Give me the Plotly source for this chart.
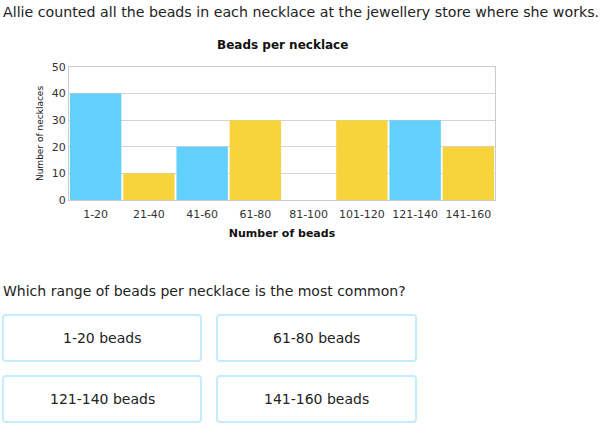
import plotly.graph_objects as go

categories = ["1-20", "21-40", "41-60", "61-80", "81-100", "101-120", "121-140", "141-160"]
counts = [40, 10, 20, 30, 0, 30, 30, 20]
bar_colors = ["#63cffb", "#f7d43c", "#63cffb", "#f7d43c", "#63cffb", "#f7d43c", "#63cffb", "#f7d43c"]
y_ticks = [0, 10, 20, 30, 40, 50]
chart_title = "Beads per necklace"
x_title = "Number of beads"
y_title = "Number of necklaces"
intro_text = "Allie counted all the beads in each necklace at the jewellery store where she works."
question_text = "Which range of beads per necklace is the most common?"
answers = ["1-20 beads", "61-80 beads", "121-140 beads", "141-160 beads"]

W, H = 600, 424
L, R, T, B = 69, 105, 67, 224
PW, PH = W - L - R, H - T - B
FONT = "DejaVu Sans"


def px(x):
    return (x - L) / PW


def py(y):
    return (H - B - y) / PH


fig = go.Figure()
fig.add_trace(go.Bar(
    x=categories, y=counts,
    marker=dict(color=bar_colors, line=dict(width=0)),
    hoverinfo="x+y",
))

fig.update_layout(
    width=W, height=H, autosize=False,
    margin=dict(l=L, r=R, t=T, b=B, pad=0),
    paper_bgcolor="white", plot_bgcolor="white",
    bargap=0.035,
    showlegend=False,
    font=dict(family=FONT, color="#333333"),
)
fig.update_xaxes(
    type="category", showline=True, linecolor="#cccccc", linewidth=1, mirror=True,
    ticks="", tickfont=dict(size=11, color="#333333"), ticklabelstandoff=4,
    title=dict(text="<b>" + x_title + "</b>", font=dict(size=11, color="#111111"), standoff=9),
    fixedrange=True,
)
fig.update_yaxes(
    range=[0, 50], tickvals=y_ticks, showgrid=True, gridcolor="#d4d4d4", gridwidth=1,
    showline=True, linecolor="#cccccc", linewidth=1, mirror=True, zeroline=False,
    ticks="", tickfont=dict(size=11, color="#333333"),
    title=dict(text=y_title, font=dict(size=9, color="#111111"), standoff=6),
    fixedrange=True,
)

annotations = [
    dict(text="<b>" + chart_title + "</b>", x=px(282), y=py(45), xref="paper", yref="paper",
         xanchor="center", yanchor="middle", showarrow=False, font=dict(size=12, color="#111111")),
    dict(text=intro_text, x=px(1), y=py(12), xref="paper", yref="paper",
         xanchor="left", yanchor="middle", showarrow=False, font=dict(size=14.2, color="#222222")),
    dict(text=question_text, x=px(1), y=py(291), xref="paper", yref="paper",
         xanchor="left", yanchor="middle", showarrow=False, font=dict(size=14, color="#222222")),
]

boxes = [(3, 315, 201, 361), (217, 315, 416, 361), (3, 376, 201, 422), (217, 376, 416, 422)]
shapes = []
r = 3
for (x0, y0, x1, y1), label in zip(boxes, answers):
    pts = [
        ("M", x0 + r, y0), ("L", x1 - r, y0), ("Q", x1, y0, x1, y0 + r), ("L", x1, y1 - r),
        ("Q", x1, y1, x1 - r, y1), ("L", x0 + r, y1), ("Q", x0, y1, x0, y1 - r),
        ("L", x0, y0 + r), ("Q", x0, y0, x0 + r, y0),
    ]
    path = ""
    for p in pts:
        cmd = p[0]
        coords = p[1:]
        s = []
        for i in range(0, len(coords), 2):
            s.append(f"{px(coords[i]):.5f},{py(coords[i+1]):.5f}")
        path += cmd + " " + " ".join(s) + " "
    path += "Z"
    shapes.append(dict(type="path", path=path, xref="paper", yref="paper",
                       line=dict(color="#c4ecfc", width=2), fillcolor="white", layer="below"))
    annotations.append(dict(text=label, x=px((x0 + x1) / 2), y=py((y0 + y1) / 2), xref="paper", yref="paper",
                            xanchor="center", yanchor="middle", showarrow=False,
                            font=dict(size=14, color="#222222")))

fig.update_layout(annotations=annotations, shapes=shapes)
fig.write_html("out.html", config={"displayModeBar": False})
